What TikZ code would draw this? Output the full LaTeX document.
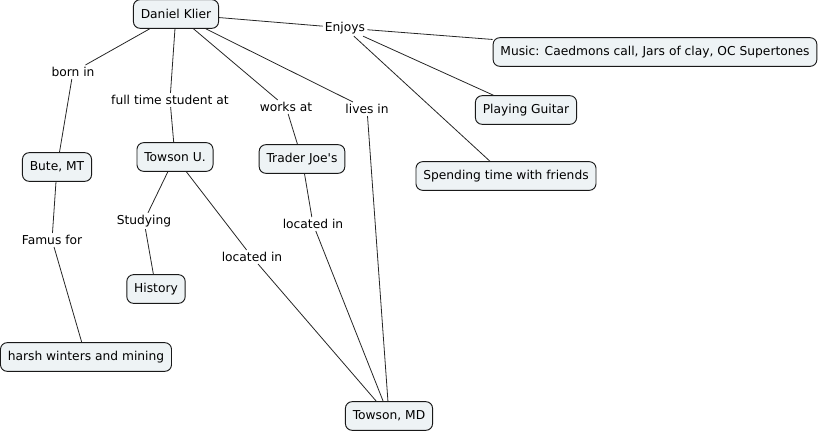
\documentclass[tikz,border=0pt]{standalone}
\usepackage{fontspec}
\setmainfont{DejaVu Sans}
\usetikzlibrary{positioning}
\definecolor{conceptfill}{HTML}{EEF3F5}
\begin{document}
\begin{tikzpicture}[x=0.75pt,y=-0.75pt,
  concept/.style={draw=black!90,fill=conceptfill,rounded corners=5pt,line width=0.7pt,
    inner xsep=5.5pt,minimum height=21.5pt,font=\fontsize{9.2}{10}\selectfont},
  linking/.style={inner sep=1.5pt,font=\fontsize{9.2}{10}\selectfont}]
      \useasboundingbox (0,0) rectangle (820,432);
      % concepts
      \node[concept] (klier)   at (176,14)  {Daniel Klier};
      \node[concept] (bute)    at (57,167)  {Bute, MT};
      \node[concept] (towsonu) at (175,157) {Towson U.};
      \node[concept] (trader)  at (302,159) {Trader Joe\textquotesingle s};
      \node[concept] (history) at (156,289) {History};
      \node[concept] (harsh)   at (86,357)  {harsh winters and mining};
      \node[concept] (towsonmd) at (389,416) {Towson, MD};
      \node[concept] (music)   at (655,52)  {Music: Caedmons call, Jars of clay, OC Supertones};
      \node[concept] (guitar)  at (526,110) {Playing Guitar};
      \node[concept] (friends) at (506,176) {Spending time with friends};
      % linking phrases
      \node[linking] (born)     at (73,72)   {born in};
      \node[linking] (student)  at (170,100) {full time student at};
      \node[linking] (works)    at (286,107) {works at};
      \node[linking] (lives)    at (367,109) {lives in};
      \node[linking] (enjoys)   at (345,28)  {Enjoys};
      \node[linking] (studying) at (144,221) {Studying};
      \node[linking] (famus)    at (52,240)  {Famus for};
      \node[linking] (loc_u)    at (252,257) {located in};
      \node[linking] (loc_t)    at (313,224) {located in};
        \path[draw=black!85,line width=0.6pt]
        (klier) edge (born)  (born) edge (bute)
        (klier) edge (student) (student) edge (towsonu)
        (klier) edge (works) (works) edge (trader)
        (klier) edge (lives) (lives) edge (towsonmd)
        (klier) edge (enjoys)
        (enjoys) edge (music)
                 edge (guitar)
                 edge (friends)
        (towsonu) edge (studying) (studying) edge (history)
        (towsonu) edge (loc_u) (loc_u) edge (towsonmd)
        (trader) edge (loc_t) (loc_t) edge (towsonmd)
        (bute) edge (famus) (famus) edge (harsh);
\end{tikzpicture}
\end{document}
